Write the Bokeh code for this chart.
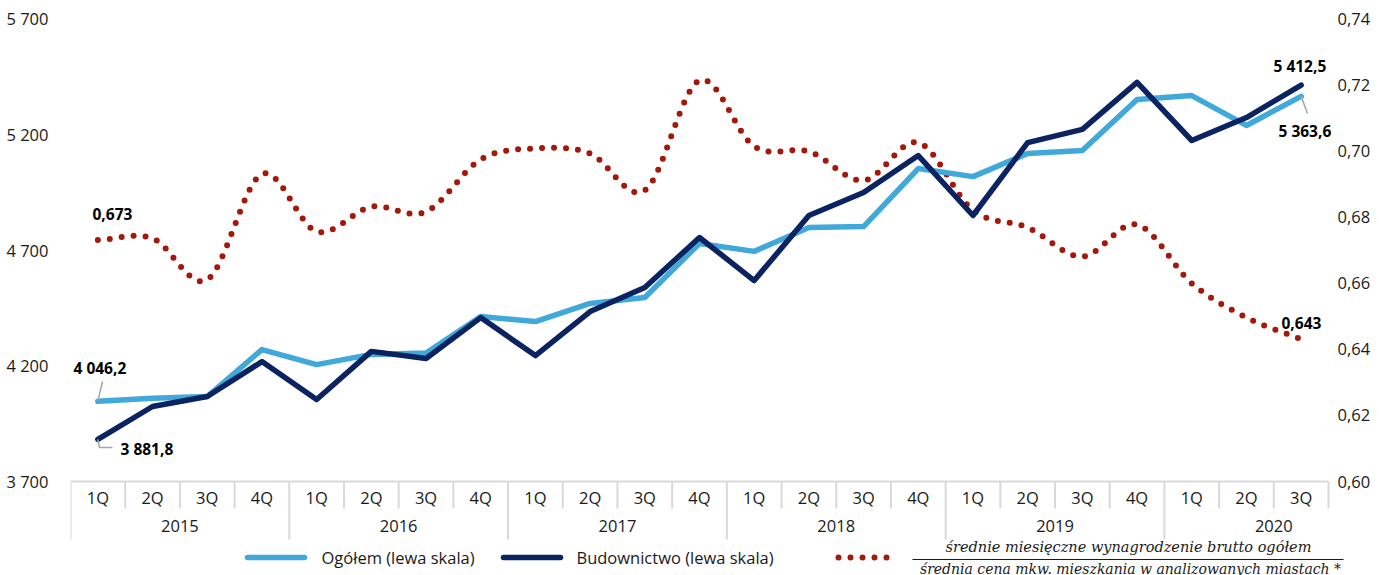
import numpy as np
from bokeh.plotting import figure
from bokeh.models import Range1d, FixedTicker
from bokeh.core.properties import value
from bokeh.embed import file_html
from bokeh.resources import INLINE

# ---------------- data ----------------
years = ["2015", "2016", "2017", "2018", "2019", "2020"]
quarters = ["1Q", "2Q", "3Q", "4Q"] * 5 + ["1Q", "2Q", "3Q"]
ogolem = [4046.2, 4060, 4067, 4270, 4205, 4249, 4255, 4413, 4391, 4469, 4495, 4728,
          4694, 4797, 4801, 5052, 5017, 5117, 5130, 5350, 5367, 5238, 5363.6]
budownictwo = [3881.8, 4024, 4067, 4218, 4054, 4262, 4231, 4408, 4244, 4434, 4538, 4754,
               4568, 4849, 4948, 5108, 4849, 5164, 5221, 5424, 5173, 5272, 5412.5]
relacja = [0.673, 0.6735, 0.661, 0.693, 0.6756, 0.6831, 0.6816, 0.6974, 0.7007, 0.6992,
           0.688, 0.7213, 0.7013, 0.6998, 0.691, 0.7025, 0.682, 0.6768, 0.668, 0.6777,
           0.6599, 0.6496, 0.643]
left_ticks = [3700, 4200, 4700, 5200, 5700]
left_tick_labels = ["3 700", "4 200", "4 700", "5 200", "5 700"]
right_ticks = [0.60, 0.62, 0.64, 0.66, 0.68, 0.70, 0.72, 0.74]
right_tick_labels = ["0,60", "0,62", "0,64", "0,66", "0,68", "0,70", "0,72", "0,74"]
series_names = ["Ogółem (lewa skala)", "Budownictwo (lewa skala)"]
ratio_num = "średnie miesięczne wynagrodzenie brutto ogółem"
ratio_den = "średnia cena mkw. mieszkania w analizowanych miastach *"
first_labels = ["4 046,2", "3 881,8", "0,673"]
last_labels = ["5 363,6", "5 412,5", "0,643"]

# ---------------- styles ----------------
C_LIGHT = "#41A9DA"
C_NAVY = "#0B2461"
C_RED = "#A3180A"
C_GRID = "#D9D9D9"
C_LEAD = "#A6A6A6"
C_TXT = "#1a1a1a"
FONT = "Open Sans"
FS = "16.5px"

W, H = 1379, 575
n = len(quarters)
xs = list(range(n))

# page layout: plot area left 70, data area right 1328, 5700 at y=18, 3700 at y=481
FR_L, DATA_R, PX_TOP, FR_B = 70, 1328, 18, 575
FR_R = W
PX_3700 = 481
ky = (left_ticks[-1] - left_ticks[0]) / (PX_3700 - PX_TOP)
kr = (right_ticks[-1] - right_ticks[0]) / (PX_3700 - PX_TOP)
kx = n / (DATA_R - FR_L)


def X(px):
    return (px - FR_L) * kx - 0.5


def Y(py):
    return left_ticks[0] - (py - PX_3700) * ky


def YR(py):
    return right_ticks[0] - (py - PX_3700) * kr


p = figure(width=W, height=H, output_backend="svg", toolbar_location=None,
           x_range=Range1d(-0.5, X(FR_R)),
           y_range=Range1d(Y(FR_B), Y(0)),
           x_axis_location=None,
           min_border_left=FR_L, min_border_right=0,
           min_border_top=0, min_border_bottom=H - FR_B)
p.extra_y_ranges = {"right": Range1d(YR(FR_B), YR(0))}
p.outline_line_color = None
p.xgrid.visible = False
p.ygrid.visible = False
p.background_fill_color = "white"
p.border_fill_color = "white"

ax = p.yaxis[0]
ax.ticker = FixedTicker(ticks=left_ticks)
ax.major_label_overrides = {t: l for t, l in zip(left_ticks, left_tick_labels)}
ax.axis_line_color = None
ax.major_tick_line_color = None
ax.minor_tick_line_color = None
ax.major_label_standoff = 16
ax.major_label_text_font = FONT
ax.major_label_text_font_size = FS
ax.major_label_text_color = C_TXT

# right-hand scale labels, drawn on the right range
p.text(x=[X(1337)] * len(right_ticks), y=right_ticks, text=right_tick_labels,
       y_range_name="right", text_font=value(FONT), text_font_size=FS,
       text_align="left", text_baseline="middle", text_color=C_TXT)


# ---------------- smooth curve for the ratio (Catmull-Rom through data points) ----------------
def catmull(xv, yv, steps=24):
    xv = np.asarray(xv, float)
    yv = np.asarray(yv, float)
    px = np.concatenate([[2 * xv[0] - xv[1]], xv, [2 * xv[-1] - xv[-2]]])
    py = np.concatenate([[2 * yv[0] - yv[1]], yv, [2 * yv[-1] - yv[-2]]])
    ox, oy = [], []
    t = np.linspace(0, 1, steps, endpoint=False)
    for i in range(1, len(px) - 2):
        for arr, out in ((px, ox), (py, oy)):
            p0, p1, p2, p3 = arr[i - 1], arr[i], arr[i + 1], arr[i + 2]
            out.extend(0.5 * (2 * p1 + (-p0 + p2) * t + (2 * p0 - 5 * p1 + 4 * p2 - p3) * t ** 2
                              + (-p0 + 3 * p1 - 3 * p2 + p3) * t ** 3))
    ox.append(xv[-1])
    oy.append(yv[-1])
    return ox, oy


sx, sy = catmull(xs, relacja)
p.line(sx, sy, y_range_name="right", line_color=C_RED, line_width=6,
       line_dash="0 12", line_cap="round")

p.line(xs, ogolem, line_color=C_LIGHT, line_width=5.5, line_join="round", line_cap="round")
p.line(xs, budownictwo, line_color=C_NAVY, line_width=5.5, line_join="round", line_cap="round")

# ---------------- category table axis ----------------
p.segment(x0=[-0.5], y0=[Y(PX_3700)], x1=[n - 0.5], y1=[Y(PX_3700)], line_color=C_GRID, line_width=2)
bx, by0, by1 = [], [], []
for i in range(n + 1):
    is_year = (i < n and quarters[i] == "1Q")
    bx.append(i - 0.5)
    by0.append(Y(PX_3700))
    by1.append(Y(539) if is_year else Y(508))
p.segment(x0=bx, y0=by0, x1=bx, y1=by1, line_color=C_GRID, line_width=2)

p.text(x=xs, y=[Y(497)] * n, text=quarters, text_font=value(FONT), text_font_size=FS,
       text_align="center", text_baseline="middle", text_color=C_TXT)
year_starts = [i for i in range(n) if quarters[i] == "1Q"]
p.text(x=[s + 1.5 for s in year_starts], y=[Y(525)] * len(years), text=years,
       text_font=value(FONT), text_font_size=FS, text_align="center",
       text_baseline="middle", text_color=C_TXT)

# ---------------- data labels ----------------
lab_kw = dict(text_font=value(FONT), text_font_size="15.5px", text_font_style="bold",
              text_color="black", text_baseline="middle")
p.text(x=[X(73)], y=[Y(367)], text=[first_labels[0]], text_align="left", **lab_kw)
p.text(x=[X(120)], y=[Y(448)], text=[first_labels[1]], text_align="left", **lab_kw)
p.text(x=[X(92)], y=[YR(213)], text=[first_labels[2]], text_align="left", y_range_name="right", **lab_kw)
p.text(x=[X(1278)], y=[Y(130)], text=[last_labels[0]], text_align="left", **lab_kw)
p.text(x=[X(1273)], y=[Y(65)], text=[last_labels[1]], text_align="left", **lab_kw)
p.text(x=[X(1281)], y=[YR(322)], text=[last_labels[2]], text_align="left", y_range_name="right", **lab_kw)

# leader lines
p.line(x=[xs[0], X(102)], y=[ogolem[0], Y(381)], line_color=C_LEAD, line_width=1.5)
p.line(x=[xs[0], X(99), X(112)], y=[budownictwo[0], Y(447), Y(447)], line_color=C_LEAD, line_width=1.5)
p.line(x=[xs[-1], X(1307)], y=[ogolem[-1], Y(113)], line_color=C_LEAD, line_width=1.5)

# ---------------- legend ----------------
LY = 557
p.line(x=[X(247), X(304)], y=[Y(LY)] * 2, line_color=C_LIGHT, line_width=5.5, line_cap="round")
p.text(x=[X(321)], y=[Y(LY)], text=[series_names[0]], text_font=value(FONT), text_font_size=FS,
       text_align="left", text_baseline="middle", text_color=C_TXT)
p.line(x=[X(503), X(560)], y=[Y(LY)] * 2, line_color=C_NAVY, line_width=5.5, line_cap="round")
p.text(x=[X(576)], y=[Y(LY)], text=[series_names[1]], text_font=value(FONT), text_font_size=FS,
       text_align="left", text_baseline="middle", text_color=C_TXT)
p.line(x=[X(838), X(896)], y=[Y(LY)] * 2, line_color=C_RED, line_width=6,
       line_dash="0 12", line_cap="round")
p.text(x=[X(1128)], y=[Y(546)], text=[ratio_num], text_font=value("DejaVu Serif"),
       text_font_size="14.5px", text_font_style="italic", text_align="center",
       text_baseline="middle", text_color=C_TXT)
p.line(x=[X(912), X(1343)], y=[Y(559)] * 2, line_color=C_TXT, line_width=1.2)
p.text(x=[X(1130)], y=[Y(568)], text=[ratio_den], text_font=value("DejaVu Serif"),
       text_font_size="14px", text_font_style="italic", text_align="center",
       text_baseline="middle", text_color=C_TXT)

open("out.html", "w").write(file_html(p, INLINE))
